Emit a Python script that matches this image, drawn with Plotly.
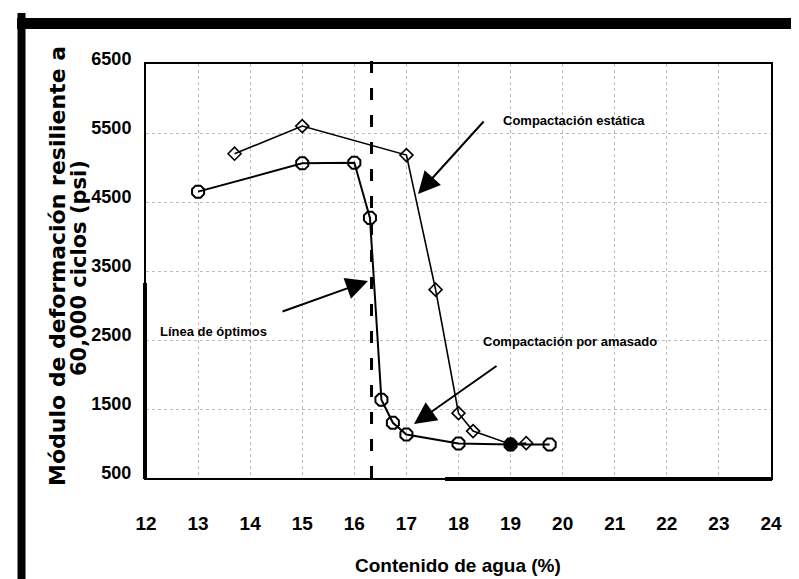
import plotly.graph_objects as go

# ---- data ----
static_x = [13.7, 15.0, 17.0, 17.56, 18.0, 18.28, 19.0, 19.3]
static_y = [5200, 5600, 5180, 3230, 1440, 1180, 990, 1005]

kneaded_x = [13.0, 15.0, 16.0, 16.3, 16.52, 16.74, 17.0, 18.0, 19.0, 19.75]
kneaded_y = [4650, 5060, 5070, 4270, 1635, 1300, 1130, 1000, 985, 985]

optimum_x = 16.33

x_ticks = list(range(12, 25))
y_ticks = [500, 1500, 2500, 3500, 4500, 5500, 6500]

# ---- layout geometry (pixels) ----
W, H = 799, 579
L, R, T, B = 138, 763, 56, 470
PW, PH = R - L, B - T

def xp(px):
    return (px - L) / PW

def yp(py):
    return (B - py) / PH

static_symbols = ["diamond-open"] * len(static_x)
static_symbols[6] = "diamond"

fig = go.Figure()
fig.add_trace(go.Scatter(
    x=static_x, y=static_y, mode="lines+markers",
    line=dict(color="black", width=1.6),
    marker=dict(symbol=static_symbols, size=10, color="black",
                line=dict(color="black", width=1.6)),
    showlegend=False, cliponaxis=False))
fig.add_trace(go.Scatter(
    x=kneaded_x, y=kneaded_y, mode="lines+markers",
    line=dict(color="black", width=2),
    marker=dict(symbol="octagon-open", size=13, color="black",
                line=dict(color="black", width=2)),
    showlegend=False, cliponaxis=False))

narrow = "Liberation Sans Narrow, Arial Narrow, Liberation Sans, Arial"

fig.update_xaxes(range=[12, 24], tickvals=x_ticks, ticktext=[str(v) for v in x_ticks],
                 showgrid=True, gridcolor="#bdbdbd", griddash="dot", gridwidth=1,
                 showline=True, linecolor="black", linewidth=2, mirror=True,
                 ticks="", zeroline=False, ticklabelstandoff=27,
                 tickfont=dict(family=narrow, size=19, color="black", weight="bold"))
fig.update_yaxes(range=[500, 6500], tickvals=y_ticks, ticktext=[str(v) for v in y_ticks],
                 showgrid=True, gridcolor="#bdbdbd", griddash="dot", gridwidth=1,
                 showline=True, linecolor="black", linewidth=2, mirror=True,
                 ticks="", zeroline=False, ticklabelstandoff=9, ticklabelshift=-5,
                 tickfont=dict(family="Liberation Sans, Arial", size=18, color="black",
                               weight="bold"))

shapes = []
# optimum line (dashed)
shapes.append(dict(type="line", xref="x", yref="paper", x0=optimum_x, x1=optimum_x,
                   y0=0, y1=yp(45), line=dict(color="black", width=3, dash="12px,15px")))
# thicker frame segments
shapes.append(dict(type="line", xref="paper", yref="paper", x0=xp(437), x1=xp(764),
                   y0=yp(471), y1=yp(471), line=dict(color="black", width=4)))
shapes.append(dict(type="line", xref="paper", yref="paper", x0=xp(137), x1=xp(137),
                   y0=yp(275), y1=yp(471), line=dict(color="black", width=4)))
# outer black frame
shapes.append(dict(type="line", xref="paper", yref="paper", x0=xp(13.5), x1=xp(13.5),
                   y0=yp(5), y1=yp(590), line=dict(color="black", width=8)))
shapes.append(dict(type="line", xref="paper", yref="paper", x0=xp(9), x1=xp(820),
                   y0=yp(15.5), y1=yp(15.5), line=dict(color="black", width=11)))
shapes.append(dict(type="line", xref="paper", yref="paper", x0=xp(9), x1=xp(820),
                   y0=yp(576.5), y1=yp(576.5), line=dict(color="black", width=9)))

def dx(px):
    return 12 + (px - L) / PW * 12

def dy(py):
    return 6500 - (py - T) / PH * 6000

lab_font = dict(family="Liberation Sans, Arial", size=13, color="black", weight="bold")
ann = []
# text labels
ann.append(dict(x=dx(493), y=dy(112), xref="x", yref="y", text="Compactación estática",
                showarrow=False, xanchor="left", yanchor="middle", font=lab_font))
ann.append(dict(x=dx(150), y=dy(323), xref="x", yref="y", text="Línea de óptimos",
                showarrow=False, xanchor="left", yanchor="middle", font=lab_font))
ann.append(dict(x=dx(473), y=dy(333), xref="x", yref="y", text="Compactación por amasado",
                showarrow=False, xanchor="left", yanchor="middle", font=lab_font))
# arrows (tail -> head)
for (tx, ty, hx, hy) in [(477, 112, 410, 186), (273, 304, 360, 273), (490, 357, 406, 416)]:
    ann.append(dict(x=dx(hx), y=dy(hy), xref="x", yref="y", axref="x", ayref="y",
                    ax=dx(tx), ay=dy(ty), text="", showarrow=True, arrowhead=2,
                    arrowsize=2.2, arrowwidth=2, arrowcolor="black"))
# axis titles
ann.append(dict(x=xp(450), y=yp(557), xref="paper", yref="paper",
                text="Contenido de agua (%)", showarrow=False,
                xanchor="center", yanchor="middle",
                font=dict(family=narrow, size=19, color="black", weight="bold")))
ann.append(dict(x=xp(49), y=yp(258), xref="paper", yref="paper",
                text="Módulo de deformación resiliente a", showarrow=False, textangle=-90,
                xanchor="center", yanchor="middle",
                font=dict(family="DejaVu Sans", size=22, color="black", weight="bold")))
ann.append(dict(x=xp(71), y=yp(260), xref="paper", yref="paper",
                text="60,000 ciclos (psi)", showarrow=False, textangle=-90,
                xanchor="center", yanchor="middle",
                font=dict(family="DejaVu Sans", size=21, color="black", weight="bold")))

fig.update_layout(width=W, height=H, margin=dict(l=L, r=W - R, t=T, b=H - B),
                  paper_bgcolor="white", plot_bgcolor="white",
                  shapes=shapes, annotations=ann, showlegend=False)

fig.write_html("out.html")
